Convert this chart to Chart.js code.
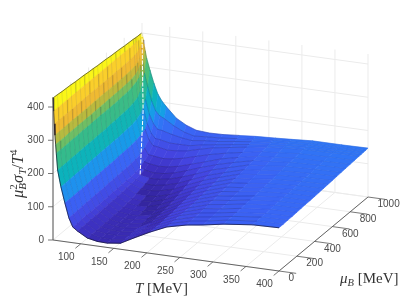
<!DOCTYPE html>
<html>
<head>
<meta charset="utf-8">
<style>
    html, body { margin: 0; padding: 0; background: #fff; }
    canvas { display: block; }
</style>
<script src="https://cdn.jsdelivr.net/npm/chart.js@4"></script>
</head>
<body>
<canvas id="surfaceChart" width="407" height="305"></canvas>
<script>
// Values
const tempValues = [58, 59, 60, 61, 62, 63, 65, 70, 76, 82, 88, 95, 110, 125, 140, 160, 180, 205, 230, 260, 285, 316, 360, 400];
const muValues = [0, 50, 100, 150, 200, 250, 300, 350, 400, 450, 500, 550, 600, 650, 700, 750, 800, 850, 900, 925, 950, 975, 1000];
// one row per muValues entry, one column per tempValues entry
const surfaceRows = [
    [427, 388, 350, 316, 288, 262, 212, 163, 116, 73, 47, 37, 20, 14, 13, 18, 39, 64, 86, 100, 107, 118, 128, 130],
    [426, 388, 350, 316, 288, 262, 212, 163, 116, 73, 47, 37, 20, 14, 13, 18, 39, 64, 86, 101, 108, 119, 128, 130],
    [424, 388, 350, 316, 288, 262, 212, 163, 116, 73, 48, 37, 20, 15, 14, 19, 40, 64, 86, 102, 109, 119, 129, 131],
    [423, 388, 350, 317, 289, 263, 213, 164, 117, 75, 49, 38, 20, 15, 14, 19, 40, 65, 87, 103, 110, 120, 129, 131],
    [422, 388, 350, 317, 289, 263, 213, 164, 117, 75, 49, 38, 21, 15, 14, 20, 41, 66, 87, 105, 111, 121, 130, 132],
    [420, 388, 350, 317, 289, 263, 213, 164, 117, 75, 49, 39, 21, 15, 15, 22, 42, 67, 88, 106, 113, 123, 131, 133],
    [419, 388, 351, 317, 289, 264, 214, 166, 119, 76, 50, 39, 22, 16, 16, 24, 44, 69, 90, 108, 114, 124, 132, 134],
    [418, 388, 351, 317, 289, 264, 214, 166, 119, 76, 50, 40, 22, 17, 17, 26, 46, 71, 91, 110, 116, 125, 133, 134],
    [416, 388, 351, 317, 289, 264, 214, 166, 119, 76, 50, 40, 23, 19, 19, 29, 48, 73, 93, 112, 118, 127, 133, 135],
    [415, 388, 351, 318, 290, 265, 215, 167, 120, 78, 52, 41, 25, 21, 22, 34, 52, 76, 95, 114, 119, 128, 134, 136],
    [413, 388, 351, 318, 290, 265, 215, 167, 120, 78, 52, 42, 27, 24, 27, 38, 56, 79, 97, 116, 121, 129, 135, 137],
    [412, 388, 351, 318, 290, 265, 215, 167, 120, 78, 52, 44, 30, 28, 31, 42, 60, 82, 99, 118, 123, 131, 136, 138],
    [411, 388, 351, 318, 291, 265, 217, 168, 122, 79, 53, 46, 34, 33, 37, 47, 65, 86, 102, 120, 125, 132, 137, 139],
    [409, 388, 351, 318, 291, 265, 217, 168, 122, 79, 53, 47, 38, 38, 43, 54, 70, 90, 105, 122, 127, 134, 138, 140],
    [408, 388, 352, 319, 291, 266, 218, 169, 123, 81, 55, 50, 44, 45, 50, 62, 76, 95, 109, 125, 129, 136, 139, 141],
    [407, 388, 352, 319, 292, 267, 219, 171, 124, 82, 58, 54, 49, 51, 57, 70, 84, 100, 113, 127, 131, 137, 140, 142],
    [405, 388, 352, 320, 293, 268, 220, 172, 126, 86, 66, 62, 58, 60, 66, 78, 90, 106, 117, 129, 133, 139, 141, 143],
    [404, 388, 353, 321, 295, 271, 224, 176, 130, 94, 76, 74, 70, 73, 79, 90, 101, 112, 121, 132, 135, 141, 143, 144],
    [403, 388, 355, 324, 299, 276, 230, 184, 138, 108, 92, 90, 84, 86, 90, 101, 110, 118, 126, 134, 138, 142, 144, 145],
    [402, 389, 357, 328, 305, 282, 240, 194, 149, 122, 108, 106, 100, 100, 100, 108, 114, 121, 128, 135, 139, 143, 144, 145],
    [401, 389, 362, 337, 316, 296, 258, 215, 171, 145, 130, 128, 120, 114, 110, 115, 118, 125, 131, 137, 140, 144, 145, 146],
    [401, 390, 370, 350, 333, 317, 287, 247, 206, 178, 165, 158, 140, 126, 118, 121, 123, 128, 133, 138, 141, 145, 145, 146],
    [400, 391, 380, 368, 357, 347, 327, 292, 254, 223, 204, 188, 158, 141, 130, 127, 128, 132, 136, 139, 142, 146, 146, 147]
];
// white seam running down the wall
const seamTemp = [58, 92, 109];
const seamMu = [1000, 760, 600];
const seamValue = [400, 229, 74];

const tempTicks = [100, 150, 200, 250, 300, 350, 400];
const muTicks = [0, 200, 400, 600, 800, 1000];
const valueTicks = [0, 100, 200, 300, 400];

const tempMin = 58;
const tempMax = 400;
const muMax = 1000;
const valueMax = 430;

// colour bands: value -> rgb
const colorStops = [
    [0, 52, 38, 160], [25, 60, 46, 188], [50, 68, 68, 224], [100, 58, 100, 245],
    [130, 40, 130, 245], [150, 20, 160, 230], [185, 10, 178, 190], [225, 40, 185, 150],
    [260, 75, 190, 120], [285, 130, 190, 90], [305, 190, 185, 60], [325, 235, 185, 50],
    [360, 250, 190, 50], [380, 250, 225, 35], [400, 250, 245, 25], [430, 250, 250, 20]
];

const seamX = 143;
const gridColor = '#ebebeb';
const axisColor = '#555555';

function project(t, m, v) {
    return {
        x: 53 + (t - tempMin) / (tempMax - tempMin) * 226 + m / muMax * 89,
        y: 240 + (t - tempMin) / (tempMax - tempMin) * 31 - m / muMax * 74 - v * 0.3325
    };
}

function colorFor(v) {
    for (let i = 1; i < colorStops.length; i++) {
        if (v <= colorStops[i][0]) {
            const a = colorStops[i - 1];
            const b = colorStops[i];
            const f = Math.max(0, (v - a[0]) / (b[0] - a[0]));
            return 'rgb(' + [1, 2, 3].map(function (k) { return Math.round(a[k] + (b[k] - a[k]) * f); }).join(',') + ')';
        }
    }
    return 'rgb(250,250,20)';
}

function lineSet(points, color, width, extra) {
    return Object.assign({
        data: points,
        showLine: true,
        fill: false,
        borderColor: color,
        borderWidth: width,
        pointRadius: 0,
        tension: 0
    }, extra || {});
}

// datasets listed in paint order, reversed at the end
const layers = [];

// grid: floor, back wall, left wall
tempTicks.forEach(function (t) {
    layers.push(lineSet([project(t, 0, 0), project(t, muMax, 0), project(t, muMax, valueMax)], gridColor, 1));
});
muTicks.forEach(function (m) {
    layers.push(lineSet([project(tempMax, m, 0), project(tempMin, m, 0), project(tempMin, m, valueMax)], gridColor, 1));
});
valueTicks.forEach(function (v) {
    layers.push(lineSet([project(tempMin, 0, v), project(tempMin, muMax, v), project(tempMax, muMax, v)], gridColor, 1));
});

// surface patches, back to front
for (let r = muValues.length - 2; r >= 0; r--) {
    for (let c = 0; c < tempValues.length - 1; c++) {
        const corners = [[r, c], [r, c + 1], [r + 1, c + 1], [r + 1, c]];
        const pts = corners.map(function (p) {
            return project(tempValues[p[1]], muValues[p[0]], surfaceRows[p[0]][p[1]]);
        });
        let sum = 0;
        corners.forEach(function (p) { sum += surfaceRows[p[0]][p[1]]; });
        let level = sum / 4;
        const midX = (pts[0].x + pts[1].x + pts[2].x + pts[3].x) / 4;
        if (midX > seamX) level -= 28;
        const col = colorFor(level);
        layers.push(lineSet(pts.concat([pts[0]]), col, 0.6, { fill: 'shape', backgroundColor: col }));
    }
}

// mesh lines at constant mu
function meshAlpha(ctx) {
    const x = ctx.p0.parsed.x;
    if (x < seamX) return 'rgba(0,0,40,0.14)';
    if (x < 235) return 'rgba(0,0,40,0.3)';
    return 'rgba(0,0,40,0.1)';
}
for (let r = muValues.length - 1; r > 0; r--) {
    const pts = tempValues.map(function (t, c) { return project(t, muValues[r], surfaceRows[r][c]); });
    layers.push(lineSet(pts, 'rgba(0,0,40,0.2)', 0.6, { segment: { borderColor: meshAlpha } }));
}

// dark surface edges
layers.push(lineSet(tempValues.map(function (t, c) { return project(t, 0, surfaceRows[0][c]); }), 'rgba(10,10,40,0.85)', 0.8));
layers.push(lineSet(muValues.map(function (m, r) { return project(tempMin, m, surfaceRows[r][0]); }), 'rgba(30,30,30,0.75)', 0.8));

layers.push(lineSet(seamTemp.map(function (t, i) { return project(t, seamMu[i], seamValue[i]); }), '#ffffff', 1, { borderDash: [4, 1.5] }));

// axes and tick marks
layers.push(lineSet([project(tempMin, 0, 0), project(tempMin, 0, valueMax)], axisColor, 1));
layers.push(lineSet([project(tempMin, 0, 0), project(tempMax, 0, 0), project(tempMax, muMax, 0)], axisColor, 0.9));
valueTicks.forEach(function (v) {
    const p = project(tempMin, 0, v);
    layers.push(lineSet([p, { x: p.x - 5, y: p.y }], axisColor, 0.8));
});
tempTicks.forEach(function (t) {
    layers.push(lineSet([project(t, 0, 0), project(t, -60, 0)], axisColor, 0.8));
});
muTicks.forEach(function (m) {
    layers.push(lineSet([project(tempMax, m, 0), project(tempMax + 26, m, 0)], axisColor, 0.8));
});

function drawRuns(ctx, runs) {
    let x = 0;
    runs.forEach(function (run) {
        ctx.font = run.font;
        ctx.fillText(run.text, x, run.dy || 0);
        if (!run.noAdvance) x += ctx.measureText(run.text).width;
    });
}

const tickFont = '10px "Liberation Sans"';
const serif = '15px "Liberation Serif"';
const serifItalic = 'italic 15px "Liberation Serif"';
const subItalic = 'italic 10.5px "Liberation Serif"';

const axisText = {
    id: 'axisText',
    afterDraw: function (chart) {
        const ctx = chart.ctx;
        ctx.save();
        ctx.fillStyle = '#4a4a4a';
        ctx.font = tickFont;
        ctx.textBaseline = 'middle';

        ctx.textAlign = 'right';
        valueTicks.forEach(function (v) {
            const p = project(tempMin, 0, v);
            ctx.fillText(String(v), p.x - 9, p.y);
        });
        ctx.textAlign = 'center';
        tempTicks.forEach(function (t) {
            const p = project(t, 0, 0);
            ctx.fillText(String(t), p.x - 14.5, p.y + 13.5);
        });
        ctx.textAlign = 'left';
        muTicks.forEach(function (m) {
            const p = project(tempMax, m, 0);
            ctx.fillText(String(m), p.x + 9.5, p.y + 7.5);
        });

        // axis titles
        ctx.fillStyle = '#333333';
        ctx.textBaseline = 'alphabetic';
        ctx.save();
        ctx.translate(135, 293);
        drawRuns(ctx, [{ text: 'T', font: serifItalic }, { text: ' [MeV]', font: serif }]);
        ctx.restore();

        ctx.save();
        ctx.translate(340, 283);
        drawRuns(ctx, [{ text: 'μ', font: serifItalic }, { text: 'B', font: subItalic, dy: 3 }, { text: ' [MeV]', font: serif }]);
        ctx.restore();

        ctx.save();
        ctx.translate(23, 198);
        ctx.rotate(-Math.PI / 2);
        drawRuns(ctx, [
            { text: 'μ', font: 'italic 16.5px "Liberation Serif"' },
            { text: '2', font: '11px "Liberation Serif"', dy: -6, noAdvance: true },
            { text: 'B', font: 'italic 11px "Liberation Serif"', dy: 3 },
            { text: 'σ', font: 'italic 16.5px "Liberation Serif"' },
            { text: 'T', font: 'italic 11px "Liberation Serif"', dy: 3 },
            { text: '/', font: '16.5px "Liberation Serif"' },
            { text: 'T', font: 'italic 16.5px "Liberation Serif"' },
            { text: '4', font: '11px "Liberation Serif"', dy: -6 }
        ]);
        ctx.restore();
        ctx.restore();
    }
};

new Chart(document.getElementById('surfaceChart'), {
    type: 'scatter',
    data: { datasets: layers.reverse() },
    options: {
        responsive: false,
        animation: false,
        events: [],
        layout: { padding: 0 },
        plugins: { legend: { display: false }, tooltip: { enabled: false } },
        scales: {
            x: { type: 'linear', display: false, min: 0, max: 407 },
            y: { type: 'linear', display: false, min: 0, max: 305, reverse: true }
        }
    },
    plugins: [axisText]
});
</script>
</body>
</html>
